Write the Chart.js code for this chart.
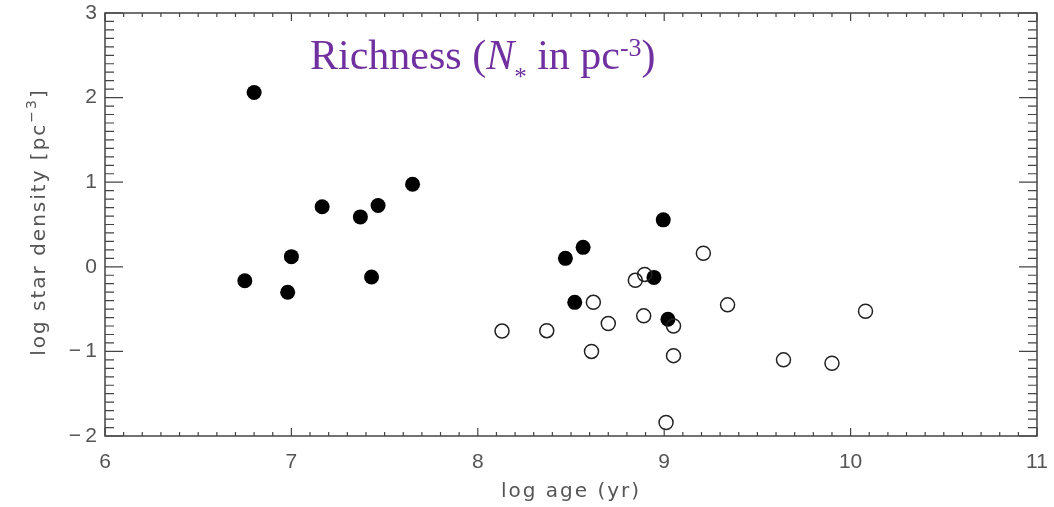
<!DOCTYPE html>
<html>
<head>
<meta charset="utf-8">
<script src="https://cdn.jsdelivr.net/npm/chart.js@4"></script>
<style>
  body { margin: 0; background: #fff; }
</style>
</head>
<body>
<canvas id="myChart" width="1054" height="507"></canvas>
<script>
// clusters with measured densities (filled) and lower limits (open)
const filledAge = [6.80, 6.75, 6.98, 7.00, 7.165, 7.37, 7.465, 7.43, 7.65, 8.47, 8.565, 8.52, 8.995, 8.945, 9.02];
const filledDensity = [2.06, -0.165, -0.30, 0.12, 0.71, 0.59, 0.725, -0.12, 0.975, 0.10, 0.23, -0.42, 0.555, -0.125, -0.62];

const openAge = [8.13, 8.37, 8.62, 8.70, 8.61, 8.845, 8.895, 8.89, 9.05, 9.05, 9.01, 9.21, 9.34, 9.64, 9.90, 10.08];
const openDensity = [-0.76, -0.755, -0.42, -0.67, -1.00, -0.16, -0.09, -0.58, -0.70, -1.05, -1.84, 0.16, -0.45, -1.10, -1.14, -0.525];

const xMin = 6, xMax = 11;
const yMin = -2, yMax = 3;

const toPoints = (xs, ys) => xs.map((x, i) => ({ x: x, y: ys[i] }));

const labelColor = "#555";
const tickFont = { family: "'Liberation Sans', Arial, sans-serif", size: 21 };
const titleFamily = "'DejaVu Sans', sans-serif";

// box frame with inward minor/major ticks on all four sides
const frameTicks = {
  id: "frameTicks",
  afterDatasetsDraw(chart) {
    const { ctx, chartArea: a, scales } = chart;
    ctx.save();
    ctx.strokeStyle = "#444";
    ctx.lineWidth = 1.5;
    ctx.strokeRect(a.left, a.top, a.right - a.left, a.bottom - a.top);
    ctx.lineWidth = 1.2;
    ctx.beginPath();
    for (let i = 0; i <= (xMax - xMin) * 10; i++) {
      const px = scales.x.getPixelForValue(xMin + i / 10);
      const len = i % 10 === 0 ? 8 : 4;
      ctx.moveTo(px, a.bottom);
      ctx.lineTo(px, a.bottom - len);
      ctx.moveTo(px, a.top);
      ctx.lineTo(px, a.top + len);
    }
    for (let i = 0; i <= (yMax - yMin) * 10; i++) {
      const py = scales.y.getPixelForValue(yMin + i / 10);
      const len = i % 10 === 0 ? 18 : 9;
      ctx.moveTo(a.left, py);
      ctx.lineTo(a.left + len, py);
      ctx.moveTo(a.right, py);
      ctx.lineTo(a.right - len, py);
    }
    ctx.stroke();
    ctx.restore();
  },
};

// draws a run of text pieces (with optional raise/lower) starting at x, y
function drawRun(ctx, parts, x, y) {
  parts.forEach((p) => {
    ctx.font = p.f;
    ctx.fillText(p.t, x, y + (p.dy || 0));
    x += ctx.measureText(p.t).width;
  });
  return x;
}

function runWidth(ctx, parts) {
  let w = 0;
  parts.forEach((p) => {
    ctx.font = p.f;
    w += ctx.measureText(p.t).width;
  });
  return w;
}

// axis titles in a wide, loosely spaced sans
const axisTitles = {
  id: "axisTitles",
  afterDraw(chart) {
    const { ctx, chartArea: a } = chart;
    ctx.save();
    ctx.fillStyle = labelColor;
    ctx.textBaseline = "alphabetic";
    ctx.letterSpacing = "2px";

    const xParts = [{ t: "log age (yr)", f: "20px " + titleFamily }];
    const xw = runWidth(ctx, xParts);
    drawRun(ctx, xParts, (a.left + a.right) / 2 - xw / 2, 497);

    const yParts = [
      { t: "log star density [pc", f: "20px " + titleFamily },
      { t: "\u22123", f: "14px " + titleFamily, dy: -9 },
      { t: "]", f: "20px " + titleFamily },
    ];
    const yw = runWidth(ctx, yParts);
    ctx.translate(45, 222);
    ctx.rotate(-Math.PI / 2);
    drawRun(ctx, yParts, -yw / 2, 0);
    ctx.restore();
  },
};

// heading with italic N, subscript star and superscript exponent
const heading = {
  id: "heading",
  afterDraw(chart) {
    const ctx = chart.ctx;
    const serif = "'Liberation Serif', 'Times New Roman', serif";
    ctx.save();
    ctx.fillStyle = "#7030A0";
    ctx.textBaseline = "alphabetic";
    drawRun(ctx, [
      { t: "Richness (", f: "42px " + serif },
      { t: "N", f: "italic 42px " + serif },
      { t: "*", f: "25px " + serif, dy: 16 },
      { t: " in pc", f: "42px " + serif },
      { t: "-3", f: "26px " + serif, dy: -13 },
      { t: ")", f: "42px " + serif },
    ], 310, 69);
    ctx.restore();
  },
};

new Chart("myChart", {
  type: "scatter",
  data: {
    datasets: [
      {
        data: toPoints(openAge, openDensity),
        pointRadius: 7,
        pointBorderWidth: 1.5,
        pointBackgroundColor: "rgba(0,0,0,0)",
        pointBorderColor: "#222",
      },
      {
        data: toPoints(filledAge, filledDensity),
        pointRadius: 7.5,
        pointBorderWidth: 0,
        pointBackgroundColor: "#000",
        pointBorderColor: "#000",
      },
    ],
  },
  options: {
    responsive: false,
    animation: false,
    devicePixelRatio: 1,
    layout: { padding: { top: 13, right: 17, left: 0, bottom: 0 } },
    plugins: {
      legend: { display: false },
      tooltip: { enabled: false },
    },
    scales: {
      x: {
        type: "linear",
        min: xMin,
        max: xMax,
        grid: { display: false, drawTicks: false },
        border: { display: false },
        ticks: { stepSize: 1, color: labelColor, font: tickFont, padding: 14, maxRotation: 0 },
        afterFit: (scale) => {
          scale.height = 71;
          scale.paddingLeft = 0;
          scale.paddingRight = 0;
        },
      },
      y: {
        type: "linear",
        min: yMin,
        max: yMax,
        grid: { display: false, drawTicks: false },
        border: { display: false },
        ticks: {
          stepSize: 1,
          color: labelColor,
          font: tickFont,
          padding: 8,
          callback: (v) => (v < 0 ? "\u2212\u2009" + Math.abs(v) : String(v)),
        },
        afterFit: (scale) => {
          scale.width = 105;
          scale.paddingTop = 0;
          scale.paddingBottom = 0;
        },
      },
    },
  },
  plugins: [frameTicks, axisTitles, heading],
});
</script>
</body>
</html>
